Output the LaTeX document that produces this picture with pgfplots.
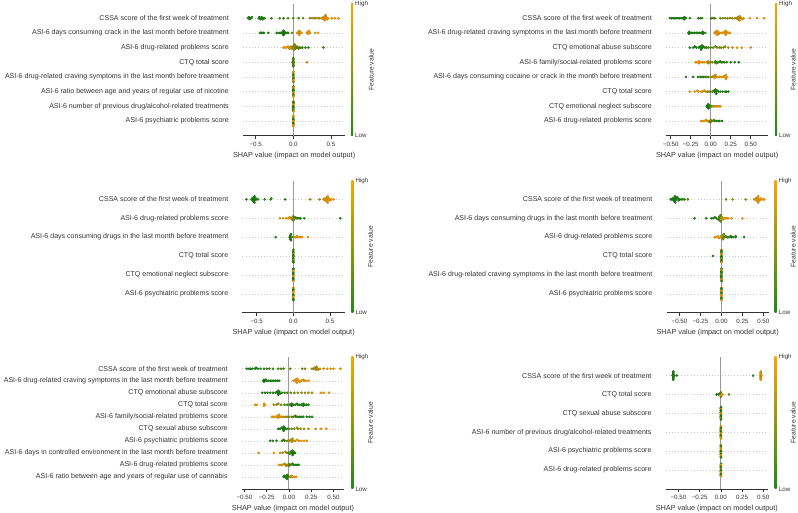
\documentclass[border=0pt]{standalone}
\usepackage{fontspec}
\setmainfont{Liberation Sans}
\usepackage{pgfplots}
\usepackage{pgfplotstable}
\pgfplotsset{compat=1.18}
\definecolor{shapgreen}{RGB}{30,140,20}
\definecolor{shaporange}{RGB}{255,165,0}
\definecolor{txt}{RGB}{51,51,51}
\definecolor{zline}{RGB}{153,153,153}
\definecolor{gridc}{RGB}{204,204,204}
\pgfplotsset{
  colormap={shap}{rgb255=(30,140,20) rgb255=(255,165,0)},
  shap/.style={
    scale only axis,
    anchor=south west,
    axis x line*=bottom,
    axis y line*=left,
    x axis line style={-, draw=txt, line width=0.6pt},
    y axis line style={draw=none},
    xtick style={draw=txt, line width=0.6pt},
    ytick style={draw=none},
    tick align=outside,
    major tick length=3.2pt,
    ymajorgrids=true,
    xmajorgrids=false,
    y grid style={gridc, line width=0.45pt, dash pattern=on 0.5pt off 2.6pt},
    colormap name=shap,
    point meta min=0, point meta max=1,
    yticklabel style={font=\fontsize{7.05}{8}\selectfont, text=txt, anchor=east, xshift=-7.5pt},
    xticklabel style={font=\fontsize{6.2}{7}\selectfont, text=txt},
    xlabel={SHAP value (impact on model output)},
    xlabel style={font=\fontsize{7.3}{8}\selectfont, text=txt, yshift=1.6pt},
  },
  zeroline/.style={zline, line width=0.9pt, forget plot},
  shapdots/.style={scatter, only marks, mark=*, mark size=1.1pt, point meta=explicit},
}
\newcommand{\shapcbar}[4]{%
  \shade[bottom color=shapgreen, top color=shaporange] ({#1-1},{512-#3}) rectangle ({#1+1},{512-#2});
  \node[anchor=west, font=\fontsize{6.2}{7}\selectfont, text=txt, inner sep=0pt] at ({#1+3},{512-#2}) {High};
  \node[anchor=west, font=\fontsize{6.2}{7}\selectfont, text=txt, inner sep=0pt] at ({#1+3},{512-#3}) {Low};
  \node[rotate=90, font=\fontsize{6.8}{8}\selectfont, text=txt, inner sep=0pt] at (#4,{512-(#2+#3)/2}) {Feature value};
}

\pgfplotstableread{
x y c
-0.60 7.00 0
-0.59 7.07 0
-0.58 6.93 0
-0.575 7.00 0
-0.56 7.00 0.05
-0.55 7.07 0
-0.46 7.00 0
-0.45 7.07 0
-0.44 6.93 0
-0.43 7.00 0.05
-0.42 7.07 0
-0.41 6.93 0
-0.40 7.00 0
-0.38 7.00 0.1
-0.29 7.00 0.1
-0.18 7.00 0.15
-0.13 7.00 0.1
-0.07 7.00 0.2
0.00 7.00 0.3
0.07 7.00 0.3
0.13 7.00 0.4
0.22 7.00 0.55
0.25 7.00 0.6
0.28 7.00 0.55
0.30 7.00 0.65
0.33 7.00 0.7
0.35 7.00 0.75
0.38 7.00 0.85
0.40 7.07 0.9
0.40 6.93 0.9
0.42 7.00 1
0.42 7.07 0.95
0.42 6.93 1
0.42 7.14 1
0.42 6.86 1
0.43 7.21 0.9
0.44 7.07 1
0.45 6.93 1
0.46 7.00 1
0.51 7.00 1
0.55 7.00 1
0.60 7.00 1
-0.44 6.00 0
-0.43 6.00 0
-0.42 6.00 0
-0.40 6.00 0
-0.39 6.00 0
-0.33 6.00 0
-0.22 6.00 0
-0.19 6.00 0
-0.17 6.00 0
-0.15 6.00 0
-0.14 6.07 0
-0.14 5.93 0
-0.13 6.00 0
-0.13 6.14 0
-0.13 5.86 0
-0.12 6.07 0
-0.12 5.93 0
-0.11 6.00 0
-0.10 6.00 0
-0.08 6.00 0.05
-0.07 6.00 0.1
-0.02 6.00 0.35
0.05 6.00 1
0.07 6.07 1
0.07 5.93 1
0.08 6.00 1
0.08 6.14 1
0.08 5.86 1
0.09 6.07 0.95
0.10 6.00 1
0.11 6.00 1
0.18 6.00 1
0.19 6.07 1
0.20 6.00 1
0.20 5.93 1
0.21 6.14 0.95
0.22 6.00 1
0.29 6.00 1
0.33 6.00 1
-0.13 5.00 1
-0.11 5.00 1
-0.09 5.00 1
-0.07 5.07 0.95
-0.06 5.00 1
-0.05 4.93 0.9
-0.04 5.00 0.85
-0.03 5.07 0.8
-0.02 4.93 0.75
-0.01 5.00 0.7
0.00 5.07 0.6
0.00 4.93 0.65
0.01 5.14 0.55
0.01 4.86 0.6
0.02 5.00 0.55
0.02 5.21 0.5
0.03 5.07 0.5
0.03 4.93 0.45
0.04 5.00 0.4
0.05 5.07 0.35
0.06 5.00 0.3
0.07 4.93 0.3
0.08 5.00 0.25
0.10 5.00 0.2
0.12 5.00 0.15
0.16 5.00 0.05
0.20 5.00 0.05
0.40 5.00 0.1
0.00 3.72 0.2
0.00 3.79 0.1
0.00 3.86 0.3
0.00 3.93 0.2
0.00 4.00 0.4
0.00 4.07 0.1
0.00 4.14 0.3
0.00 4.21 0.2
0.00 4.28 0.05
0.01 4.00 0.5
-0.01 4.00 0.2
0.18 4.00 1
0.002 3.35 1
-0.002 3.28 1
0.002 3.21 0.6
-0.002 3.14 0
0.002 3.07 0
-0.002 3.00 1
0.002 2.93 0
-0.002 2.86 0
0.002 2.79 1
-0.002 2.72 1
0.002 2.65 0.5
0.002 2.35 0
-0.002 2.28 1
0.002 2.21 1
-0.002 2.14 0
0.002 2.07 0
-0.002 2.00 0
0.002 1.93 1
-0.002 1.86 1
0.002 1.79 0
-0.002 1.72 0.5
0.002 1.65 1
0.002 1.35 1
-0.002 1.28 0
0.002 1.21 0
-0.002 1.14 1
0.002 1.07 1
-0.002 1.00 0
0.002 0.93 0
-0.002 0.86 0
0.002 0.79 1
-0.002 0.72 0
0.002 0.65 1
0.002 0.35 1
-0.002 0.28 0.7
0.002 0.21 1
-0.002 0.14 0
0.002 0.07 0
-0.002 0.00 1
0.002 -0.07 1
-0.002 -0.14 0
0.002 -0.21 0
-0.002 -0.28 1
0.002 -0.35 1
}\dataA

\pgfplotstableread{
x y c
-0.51 7.00 0
-0.49 7.00 0
-0.47 7.00 0
-0.45 7.00 0
-0.43 7.00 0
-0.41 7.00 0
-0.39 7.00 0
-0.37 7.00 0
-0.35 7.00 0
-0.33 7.07 0
-0.33 6.93 0
-0.32 7.00 0
-0.31 7.00 0.05
-0.26 7.00 0.1
-0.155 7.00 0.1
-0.13 7.00 0.1
-0.11 7.00 0.15
0.01 7.00 0.2
0.03 7.00 0.2
0.05 7.00 0.25
0.12 7.00 0.4
0.15 7.00 0.45
0.18 7.00 0.5
0.21 7.00 0.5
0.24 7.00 0.55
0.27 7.00 0.6
0.30 7.00 0.6
0.32 7.00 0.7
0.34 7.07 0.75
0.34 6.93 0.7
0.36 7.00 0.8
0.36 7.14 0.85
0.36 6.86 0.8
0.37 7.07 0.85
0.38 7.00 0.85
0.39 6.93 0.9
0.41 7.00 0.9
0.49 7.00 1
0.58 7.00 1
0.67 7.00 1
-0.28 6.00 0
-0.27 6.07 0
-0.27 5.93 0
-0.26 6.00 0
-0.24 6.00 0
-0.22 6.00 0
-0.20 6.00 0
-0.18 6.00 0
-0.16 6.00 0
-0.14 6.00 0
-0.12 6.00 0
-0.10 6.07 0
-0.10 5.93 0
-0.09 6.00 0
-0.07 6.00 0.05
0.05 6.00 1
0.06 6.07 1
0.07 6.00 0.95
0.07 5.93 1
0.08 6.14 1
0.08 6.00 1
0.08 5.86 1
0.09 6.07 1
0.10 5.93 1
0.11 6.00 0.95
0.13 6.00 1
0.15 6.00 1
0.17 6.07 1
0.18 6.00 1
0.18 5.93 1
0.19 6.14 1
0.19 5.86 1
0.20 6.00 1
0.20 6.07 1
0.22 6.00 1
0.24 6.00 1
-0.26 5.00 0
-0.22 5.00 0
-0.20 5.07 0
-0.18 5.00 0
-0.15 5.00 0
-0.13 5.07 0
-0.12 5.00 0
-0.12 4.93 0
-0.12 4.86 0
-0.11 5.14 0.05
-0.10 5.00 0
-0.09 5.07 0.1
-0.07 5.00 0.1
-0.05 5.00 0.15
-0.03 5.00 0.2
0.00 5.00 0.25
0.03 5.00 0.3
0.06 5.07 0.35
0.08 5.00 0.4
0.11 5.00 0.45
0.13 5.00 0.45
0.16 5.00 0.5
0.18 5.07 0.55
0.22 5.00 0.7
0.27 5.00 0.8
0.33 5.00 0.9
0.39 5.00 0.95
0.50 5.00 1
-0.19 4.00 1
-0.17 4.00 1
-0.15 4.07 1
-0.15 3.93 1
-0.14 4.00 0.95
-0.12 4.00 1
-0.10 4.00 0.95
-0.08 4.00 0.9
-0.05 4.00 0.85
-0.03 4.07 0.9
-0.03 3.93 0.8
-0.02 4.00 0.7
0.00 4.00 0.6
0.02 4.00 0.45
0.05 4.00 0.3
0.06 4.07 0.2
0.07 3.93 0.25
0.08 4.00 0.2
0.10 4.00 0.15
0.12 4.07 0.1
0.13 4.00 0.1
0.15 4.00 0.1
0.17 4.00 0.05
0.20 4.00 0.05
0.25 4.00 0
0.30 4.00 0
0.35 4.00 0
-0.31 3.00 0
-0.22 3.00 0
-0.16 3.00 0
-0.13 3.00 0
-0.11 3.00 0.05
-0.09 3.00 0.1
-0.07 3.00 0.2
-0.05 3.00 0.3
-0.03 3.00 0.4
0.00 3.00 0.6
0.02 3.00 0.7
0.04 3.07 0.8
0.05 3.00 0.85
0.05 2.93 0.9
0.06 3.14 0.85
0.07 3.00 0.95
0.09 3.00 1
0.11 3.00 1
0.13 3.00 1
0.15 3.00 1
0.17 3.07 1
0.18 3.00 1
0.19 2.93 1
0.19 3.14 1
0.19 2.86 1
0.20 3.00 1
-0.26 2.00 1
-0.20 2.00 1
-0.17 2.07 1
-0.15 2.00 1
-0.12 2.00 0.95
-0.10 2.00 0.9
-0.08 2.07 0.85
-0.06 2.00 0.8
-0.04 2.00 0.6
-0.02 2.00 0.5
0.00 2.00 0.35
0.02 2.00 0.25
0.04 2.07 0.15
0.05 2.00 0.1
0.06 2.14 0.05
0.06 1.93 0
0.06 2.00 0
0.07 1.86 0.05
0.08 2.07 0
0.10 2.00 0
0.12 2.00 0
0.15 2.00 0
0.18 2.00 0
0.20 2.00 0
0.22 2.00 0
-0.05 1.00 0
-0.04 1.07 0
-0.04 0.93 0
-0.03 1.14 0
-0.03 0.86 0
-0.03 1.00 0
-0.02 1.07 0.05
-0.02 0.93 0.05
-0.01 1.00 0.1
0.01 1.00 0.4
0.03 1.00 0.6
0.05 1.00 0.75
0.07 1.00 0.85
0.09 1.00 0.9
0.11 1.00 1
0.12 1.00 1
-0.12 0.00 1
-0.10 0.00 1
-0.08 0.00 1
-0.06 0.07 0.95
-0.05 0.00 0.9
-0.03 0.00 0.85
-0.02 -0.07 0.7
-0.01 0.00 0.6
0.00 0.07 0.5
0.00 -0.07 0.45
0.01 0.00 0.4
0.02 0.00 0.3
0.04 0.07 0.2
0.05 0.00 0.15
0.07 0.00 0.1
0.09 0.00 0.05
0.11 0.00 0
0.14 0.00 0
}\dataB

\pgfplotstableread{
x y c
-0.64 5.00 0
-0.57 5.00 0
-0.56 5.055 0
-0.55 4.945 0
-0.54 5.00 0
-0.54 5.11 0
-0.54 4.89 0
-0.53 5.055 0
-0.53 4.945 0
-0.53 5.165 0
-0.53 4.835 0
-0.52 5.00 0
-0.51 5.055 0
-0.50 5.00 0
-0.48 5.00 0.05
-0.39 5.00 0.1
-0.31 5.00 0.2
-0.30 5.055 0.15
-0.11 5.00 0.1
0.23 5.00 0.55
0.36 5.00 0.6
0.41 5.00 0.85
0.43 5.055 0.9
0.44 4.945 0.85
0.45 5.00 1
0.46 5.11 1
0.46 4.89 1
0.46 5.055 0.95
0.46 4.945 1
0.47 5.165 1
0.47 4.835 0.95
0.48 5.00 1
0.49 5.055 1
0.50 4.945 0.95
0.52 5.00 1
0.55 5.00 1
-0.18 4.00 1
-0.14 4.00 1
-0.10 4.00 1
-0.07 4.00 1
-0.05 4.055 0.95
-0.03 4.00 0.9
-0.02 3.945 0.8
-0.01 4.055 0.7
0.00 4.00 0.6
0.00 4.11 0.55
0.00 3.89 0.5
0.01 4.055 0.45
0.01 3.945 0.4
0.02 4.00 0.35
0.03 4.055 0.3
0.04 4.00 0.2
0.06 4.00 0.1
0.08 4.00 0.05
0.10 4.00 0.05
0.15 4.00 0
0.64 4.00 0
-0.24 3.00 0
-0.05 3.00 0
-0.04 3.055 0
-0.04 2.945 0
-0.04 3.11 0
-0.04 2.89 0
-0.03 3.00 0.05
-0.03 3.165 0.05
-0.03 2.835 0
-0.02 3.00 0.2
0.01 3.00 0.8
0.03 3.00 1
0.05 3.055 1
0.06 3.00 0.95
0.08 3.00 1
0.10 3.00 1
0.12 3.00 1
0.20 3.00 1
0.002 2.33 0
-0.002 2.275 0.5
0.002 2.22 0
-0.002 2.165 0
0.002 2.11 1
-0.002 2.055 0
0.002 2.00 0
-0.002 1.945 0.5
0.002 1.89 0
-0.002 1.835 0
0.002 1.78 1
-0.002 1.725 0
0.002 1.67 0
0.002 1.33 0
-0.002 1.275 0
0.002 1.22 1
-0.002 1.165 1
0.002 1.11 0
-0.002 1.055 0
0.002 1.00 0
-0.002 0.945 1
0.002 0.89 1
-0.002 0.835 0
0.002 0.78 0
-0.002 0.725 0
0.002 0.67 1
0.002 0.33 1
-0.002 0.275 1
0.002 0.22 0
-0.002 0.165 0
0.002 0.11 1
-0.002 0.055 1
0.002 0.00 1
-0.002 -0.055 0
0.002 -0.11 0
-0.002 -0.165 1
0.002 -0.22 1
-0.002 -0.275 0
0.002 -0.33 0
}\dataC

\pgfplotstableread{
x y c
-0.605 5.00 0
-0.59 5.00 0
-0.58 5.055 0
-0.57 4.945 0
-0.56 5.00 0
-0.56 5.11 0
-0.56 4.89 0
-0.55 5.055 0
-0.55 4.945 0
-0.55 5.165 0
-0.55 4.835 0
-0.54 5.00 0
-0.53 5.11 0
-0.52 5.055 0
-0.51 4.945 0
-0.50 5.00 0
-0.48 5.00 0
-0.46 5.00 0.05
-0.44 5.00 0.1
-0.40 5.00 0.2
0.055 5.00 0.45
0.134 5.00 0.5
0.29 5.00 0.6
0.39 5.00 0.8
0.41 5.055 0.85
0.42 4.945 0.9
0.43 5.00 1
0.43 5.11 1
0.43 4.89 0.95
0.44 5.165 1
0.44 4.835 1
0.44 5.055 1
0.45 4.945 1
0.46 5.00 1
0.47 5.055 1
0.48 5.00 1
0.50 5.00 1
0.51 5.00 1
-0.32 4.00 0
-0.18 4.00 0
-0.12 4.00 0
-0.10 4.00 0
-0.08 4.055 0
-0.06 4.00 0.05
-0.04 3.945 0.1
-0.03 4.055 0.2
-0.02 4.00 0.3
-0.02 4.11 0.2
-0.02 3.89 0.25
-0.01 4.165 0.4
-0.01 3.835 0.35
0.00 4.00 0.7
0.01 4.055 0.85
0.02 3.945 0.9
0.03 4.00 1
0.05 4.00 1
0.07 4.00 1
0.08 4.00 1
0.12 4.00 1
0.25 4.00 1
-0.08 3.00 1
-0.06 3.00 1
-0.04 3.055 1
-0.03 2.945 0.95
-0.01 3.00 0.9
0.00 3.055 0.8
0.02 3.00 0.6
0.02 3.11 0.5
0.02 2.89 0.55
0.02 2.945 0.45
0.03 3.165 0.4
0.04 3.00 0.3
0.05 3.055 0.2
0.07 3.00 0.1
0.09 3.00 0.1
0.11 3.055 0.05
0.12 3.00 0
0.14 3.00 0
0.17 3.00 0
0.17 3.055 0
0.27 3.00 0
-0.10 2.00 0
0.002 2.33 1
-0.002 2.275 0
0.002 2.22 0
-0.002 2.165 0
0.002 2.11 1
-0.002 2.055 1
0.002 2.00 0
-0.002 1.945 0
0.002 1.89 0
-0.002 1.835 1
0.002 1.78 0
-0.002 1.725 0
0.002 1.67 1
0.002 1.33 0
-0.002 1.275 1
0.002 1.22 1
-0.002 1.165 0
0.002 1.11 0
-0.002 1.055 0
0.002 1.00 1
-0.002 0.945 0
0.002 0.89 0
-0.002 0.835 0
0.002 0.78 1
-0.002 0.725 1
0.002 0.67 0
0.002 0.33 1
-0.002 0.275 0
0.002 0.22 0
-0.002 0.165 1
0.002 0.11 1
-0.002 0.055 0
0.002 0.00 0
-0.002 -0.055 1
0.002 -0.11 1
-0.002 -0.165 1
0.002 -0.22 0
-0.002 -0.275 0
0.002 -0.33 1
}\dataD

\pgfplotstableread{
x y c
-0.475 9.00 0
-0.45 9.00 0
-0.43 9.00 0
-0.41 9.00 0
-0.38 9.00 0
-0.37 9.085 0
-0.35 9.00 0
-0.32 9.00 0.05
-0.28 9.00 0
-0.25 9.00 0.1
-0.22 9.00 0.15
-0.18 9.00 0.1
-0.12 9.00 0.2
-0.09 9.00 0.25
-0.06 9.00 0.2
0.015 9.00 0.4
0.15 9.00 0.45
0.18 9.00 0.5
0.26 9.00 0.6
0.28 9.00 0.65
0.29 9.085 0.7
0.30 9.00 0.75
0.30 8.915 0.7
0.31 9.17 0.7
0.31 9.085 0.75
0.32 9.00 0.8
0.33 8.915 0.8
0.35 9.00 0.85
0.39 9.00 0.9
0.43 9.00 1
0.47 9.00 1
0.50 9.00 1
0.58 9.00 1
-0.29 8.00 0
-0.28 8.085 0
-0.28 7.915 0
-0.27 8.00 0
-0.26 8.085 0
-0.25 8.00 0
-0.23 8.00 0
-0.21 8.00 0
-0.19 8.00 0
-0.17 8.00 0
-0.15 8.00 0
-0.13 8.00 0
-0.11 8.00 0
0.05 8.00 1
0.07 8.085 1
0.08 8.00 1
0.08 7.915 1
0.09 8.17 1
0.09 7.83 1
0.10 8.085 1
0.11 8.00 1
0.12 7.915 1
0.14 8.00 1
0.16 8.085 1
0.17 8.00 1
0.19 8.00 1
0.22 8.00 1
-0.30 7.00 0
-0.27 7.00 0
-0.24 7.00 0
-0.21 7.00 0
-0.18 7.00 0
-0.15 7.00 0
-0.13 7.085 0
-0.12 7.00 0
-0.12 6.915 0
-0.12 7.17 0
-0.12 6.83 0
-0.11 7.085 0
-0.10 6.915 0
-0.08 7.00 0.1
-0.05 7.00 0.15
-0.02 7.00 0.25
0.02 7.00 0.35
0.06 7.00 0.45
0.10 7.00 0.5
0.14 7.00 0.55
0.18 7.00 0.6
0.22 7.00 0.65
0.26 7.00 0.7
0.36 7.00 1
0.39 7.00 1
0.45 7.00 1
-0.38 6.00 1
-0.36 6.00 1
-0.28 6.085 1
-0.28 5.915 1
-0.27 6.00 1
-0.17 6.00 0.6
-0.14 6.00 0.5
-0.12 6.085 0.55
-0.09 6.00 0.4
-0.05 6.00 0.2
-0.02 6.00 0.15
0.01 6.00 0.1
0.03 6.085 0
0.03 5.915 0
0.03 6.00 0.05
0.05 6.00 0
0.07 6.00 0
0.09 6.085 0
0.10 6.00 0
0.12 6.00 0
0.14 6.00 0
0.16 6.085 0
0.16 5.915 0
0.18 6.00 0
0.20 6.00 0
0.22 6.00 0
-0.19 5.00 1
-0.17 5.00 1
-0.15 5.00 1
-0.13 5.085 1
-0.12 5.00 1
-0.12 4.915 0.95
-0.11 5.17 1
-0.10 5.00 0.95
-0.08 5.00 0.9
-0.06 5.00 0.85
-0.04 5.00 0.75
-0.02 5.00 0.6
0.00 5.00 0.45
0.03 5.00 0.35
0.05 5.00 0.25
0.07 5.085 0.2
0.08 5.00 0.15
0.10 5.00 0.1
0.12 5.00 0.05
0.14 5.00 0.05
0.16 5.00 0
0.20 5.00 0
0.23 5.00 0
0.26 5.00 0
-0.12 4.00 0
-0.10 4.00 0
-0.08 4.085 0
-0.07 4.00 0
-0.06 3.915 0
-0.06 4.17 0
-0.06 3.83 0
-0.05 4.085 0
-0.04 4.00 0
-0.02 4.00 0.1
0.00 4.00 0.2
0.03 4.00 0.4
0.06 4.00 0.5
0.09 4.085 0.55
0.10 4.00 0.6
0.13 4.00 0.6
0.17 4.00 0.65
0.22 4.00 0.85
0.30 4.00 0.9
0.36 4.00 1
0.42 4.00 1
-0.21 3.00 0
-0.18 3.00 0
-0.14 3.00 0.05
-0.08 3.00 0.1
-0.06 3.085 0.1
-0.05 3.00 0.15
-0.02 3.00 0.4
0.00 3.00 0.6
0.02 3.085 0.7
0.03 3.00 0.8
0.03 2.915 0.75
0.04 3.17 0.85
0.05 3.00 0.9
0.07 3.00 0.9
0.09 3.085 0.95
0.11 3.00 1
0.14 3.00 1
0.17 3.00 1
0.20 3.00 1
-0.34 2.00 1
-0.17 2.00 1
-0.10 2.00 0.8
-0.07 2.00 0.7
-0.04 2.085 0.6
-0.02 2.00 0.5
0.00 2.00 0.3
0.01 1.915 0.25
0.02 2.085 0.2
0.03 2.00 0.1
0.04 2.17 0.05
0.04 1.83 0.05
0.04 2.00 0
0.05 2.085 0
0.05 1.915 0
0.06 2.00 0
0.07 2.00 0
-0.11 1.00 1
-0.09 1.00 0.95
-0.07 1.00 0.9
-0.05 1.085 0.85
-0.04 1.00 0.75
-0.03 0.915 0.7
-0.02 1.00 0.6
0.00 1.085 0.45
0.00 0.915 0.4
0.01 1.00 0.3
0.02 1.00 0.2
0.04 1.085 0.1
0.05 1.00 0.05
0.07 1.00 0
0.09 1.00 0
0.11 1.00 0
-0.06 0.00 0
-0.05 0.085 0
-0.04 0.00 0
-0.03 -0.085 0
-0.02 0.00 0
-0.02 0.17 0
-0.02 -0.17 0
-0.01 0.085 0.05
0.00 0.00 0.3
0.02 0.00 0.8
0.03 0.085 0.9
0.04 0.00 1
0.06 0.00 1
0.08 0.00 1
}\dataE

\pgfplotstableread{
x y c
-0.57 5.00 0
-0.56 5.055 0
-0.56 4.945 0
-0.56 5.11 0
-0.56 4.89 0
-0.56 5.165 0
-0.56 4.835 0
-0.56 5.22 0
-0.56 4.78 0
-0.55 5.00 0
-0.52 5.00 0
0.38 5.00 0.1
0.47 5.00 1
0.47 5.055 0.8
0.47 4.945 1
0.47 5.11 1
0.47 4.89 0.7
0.47 5.165 0.95
0.47 4.835 1
0.47 5.22 1
0.47 4.78 1
0.48 5.00 1
-0.05 4.00 0
-0.03 4.00 0
-0.01 4.055 0.1
0.00 4.00 0.5
0.00 4.11 0.3
0.00 3.89 0.2
0.00 3.945 0.8
0.01 4.00 1
0.02 4.00 1
0.095 4.00 0.5
0.002 3.33 0
-0.002 3.275 0
0.002 3.22 1
-0.002 3.165 0
0.002 3.11 0
-0.002 3.055 0
0.002 3.00 1
-0.002 2.945 1
0.002 2.89 0
-0.002 2.835 0
0.002 2.78 0
-0.002 2.725 1
0.002 2.67 0
0.002 2.33 1
-0.002 2.275 1
0.002 2.22 0
-0.002 2.165 0
0.002 2.11 1
-0.002 2.055 0
0.002 2.00 0
-0.002 1.945 1
0.002 1.89 1
-0.002 1.835 0
0.002 1.78 0
-0.002 1.725 1
0.002 1.67 1
0.002 1.33 1
-0.002 1.275 0
0.002 1.22 0
-0.002 1.165 1
0.002 1.11 1
-0.002 1.055 1
0.002 1.00 0
-0.002 0.945 0
0.002 0.89 1
-0.002 0.835 0
0.002 0.78 1
-0.002 0.725 1
0.002 0.67 0
0.002 0.33 0
-0.002 0.275 1
0.002 0.22 1
-0.002 0.165 0
0.002 0.11 0
-0.002 0.055 1
0.002 0.00 0
-0.002 -0.055 0
0.002 -0.11 1
-0.002 -0.165 1
0.002 -0.22 0
-0.002 -0.275 0
0.002 -0.33 1
}\dataF

\begin{document}
\begin{tikzpicture}[x=1pt,y=1pt]
\useasboundingbox (0,0) rectangle (798,512);

\begin{axis}[shap, at={(243pt,376.3pt)}, width=102.3pt, height=132.2pt,
  xmin=-0.668, xmax=0.69, ymin=-1, ymax=8,
  xtick={-0.5,0,0.5}, xticklabels={−0.5,0.0,0.5},
  ytick={0,...,7},
  yticklabels={ASI-6 psychiatric problems score, ASI-6 number of previous drug/alcohol-related treatments, ASI-6 ratio between age and years of regular use of nicotine, ASI-6 drug-related craving symptoms in the last month before treatment, CTQ total score, ASI-6 drug-related problems score, ASI-6 days consuming crack in the last month before treatment, CSSA score of the first week of treatment}]
\addplot[zeroline] coordinates {(0,-1) (0,8)};
\addplot[shapdots] table[x=x,y=y,meta=c] {\dataA};
\end{axis}
\shapcbar{352}{3.5}{135.7}{371.3}

\begin{axis}[shap, at={(666pt,376.3pt)}, width=102.3pt, height=132.2pt,
  xmin=-0.559, xmax=0.72, ymin=-1, ymax=8,
  xtick={-0.5,-0.25,0,0.25,0.5}, xticklabels={−0.50,−0.25,0.00,0.25,0.50},
  ytick={0,...,7},
  yticklabels={ASI-6 drug-related problems score, CTQ emotional neglect subscore, CTQ total score, ASI-6 days consuming cocaine or crack in the month before treatment, ASI-6 family/social-related problems score, CTQ emotional abuse subscore, ASI-6 drug-related craving symptoms in the last month before treatment, CSSA score of the first week of treatment}]
\addplot[zeroline] coordinates {(0,-1) (0,8)};
\addplot[shapdots] table[x=x,y=y,meta=c] {\dataB};
\end{axis}
\shapcbar{776}{3.5}{135.7}{793.2}

\begin{axis}[shap, at={(242.5pt,199.3pt)}, width=102.3pt, height=132.2pt,
  xmin=-0.693, xmax=0.703, ymin=-1, ymax=6,
  xtick={-0.5,0,0.5}, xticklabels={−0.5,0.0,0.5},
  ytick={0,...,5},
  yticklabels={ASI-6 psychiatric problems score, CTQ emotional neglect subscore, CTQ total score, ASI-6 days consuming drugs in the last month before treatment, ASI-6 drug-related problems score, CSSA score of the first week of treatment}]
\addplot[zeroline] coordinates {(0,-1) (0,6)};
\addplot[shapdots] table[x=x,y=y,meta=c] {\dataC};
\end{axis}
\shapcbar{352.3}{180.5}{312.7}{370.5}

\begin{axis}[shap, at={(666.5pt,199.3pt)}, width=102.3pt, height=132.2pt,
  xmin=-0.655, xmax=0.565, ymin=-1, ymax=6,
  xtick={-0.5,-0.25,0,0.25,0.5}, xticklabels={−0.50,−0.25,0.00,0.25,0.50},
  ytick={0,...,5},
  yticklabels={ASI-6 psychiatric problems score, ASI-6 drug-related craving symptoms in the last month before treatment, CTQ total score, ASI-6 drug-related problems score, ASI-6 days consuming drugs in the last month before treatment, CSSA score of the first week of treatment}]
\addplot[zeroline] coordinates {(0,-1) (0,6)};
\addplot[shapdots] table[x=x,y=y,meta=c] {\dataD};
\end{axis}
\shapcbar{775.7}{180.5}{312.7}{793.2}

\begin{axis}[shap, at={(241.8pt,23.1pt)}, width=102.3pt, height=132.2pt,
  xmin=-0.53, xmax=0.62, ymin=-1, ymax=10,
  xtick={-0.5,-0.25,0,0.25,0.5}, xticklabels={−0.50,−0.25,0.00,0.25,0.50},
  ytick={0,...,9},
  yticklabels={ASI-6 ratio between age and years of regular use of cannabis, ASI-6 drug-related problems score, ASI-6 days in controlled environment in the last month before treatment, ASI-6 psychiatric problems score, CTQ sexual abuse subscore, ASI-6 family/social-related problems score, CTQ total score, CTQ emotional abuse subscore, ASI-6 drug-related craving symptoms in the last month before treatment, CSSA score of the first week of treatment}]
\addplot[zeroline] coordinates {(0,-1) (0,10)};
\addplot[shapdots] table[x=x,y=y,meta=c] {\dataE};
\end{axis}
\shapcbar{352.3}{356.7}{488.9}{370.5}

\begin{axis}[shap, at={(665.7pt,23.1pt)}, width=102.3pt, height=132.2pt,
  xmin=-0.65, xmax=0.556, ymin=-1, ymax=6,
  xtick={-0.5,-0.25,0,0.25,0.5}, xticklabels={−0.50,−0.25,0.00,0.25,0.50},
  ytick={0,...,5},
  yticklabels={ASI-6 drug-related problems score, ASI-6 psychiatric problems score, ASI-6 number of previous drug/alcohol-related treatments, CTQ sexual abuse subscore, CTQ total score, CSSA score of the first week of treatment}]
\addplot[zeroline] coordinates {(0,-1) (0,6)};
\addplot[shapdots] table[x=x,y=y,meta=c] {\dataF};
\end{axis}
\shapcbar{775.7}{356.7}{488.9}{793.2}

\end{tikzpicture}
\end{document}
